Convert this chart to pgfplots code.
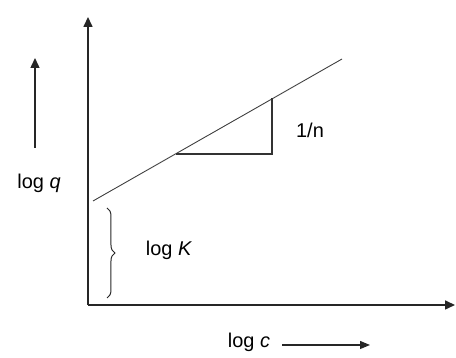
\documentclass[border=0pt]{standalone}
\usepackage{fontspec}
\setmainfont{Liberation Sans}
\usepackage{pgfplots}
\pgfplotsset{compat=1.18}
\usetikzlibrary{arrows.meta,decorations.pathreplacing}
\begin{document}
\begin{tikzpicture}
\begin{axis}[
    scale only axis, width=228bp, height=177bp,
    xmin=0, xmax=456, ymin=0, ymax=354,
    hide axis, clip=false,
    every node/.style={font=\fontsize{15.5}{18}\selectfont, text=black!80},
]
% invisible frame so the picture keeps the full size
\addplot[draw=none] coordinates {(0,0) (456,354)};
% axes
\addplot[black!85, line width=0.8pt, -{Triangle[length=5pt,width=4.5pt]}] coordinates {(88,49) (88,337)};
\addplot[black!85, line width=0.8pt, -{Triangle[length=5pt,width=4.5pt]}] coordinates {(88,49) (455,49)};
% Freundlich line and slope triangle
\addplot[black!75, line width=0.45pt] coordinates {(93,153) (342,295)};
\addplot[black!80, line width=0.6pt] coordinates {(176,200) (272,200) (272,256)};
% direction arrows next to labels
\addplot[black!85, line width=0.7pt, -{Triangle[length=5pt,width=4.5pt]}] coordinates {(35,206) (35,296)};
\addplot[black!85, line width=0.6pt, -{Triangle[length=5pt,width=4pt]}] coordinates {(282,9) (370,9)};
% brace for intercept
\draw[black!85, line width=0.5pt, decorate, decoration={brace, amplitude=4pt}]
    (axis cs:107,146) -- (axis cs:107,56);
\node at (axis cs:39,171) {log \textit{q}};
\node at (axis cs:169,104) {log \textit{K}};
\node at (axis cs:310,224) {1/n};
\node at (axis cs:249,12) {log \textit{c}};
\end{axis}
\end{tikzpicture}
\end{document}
